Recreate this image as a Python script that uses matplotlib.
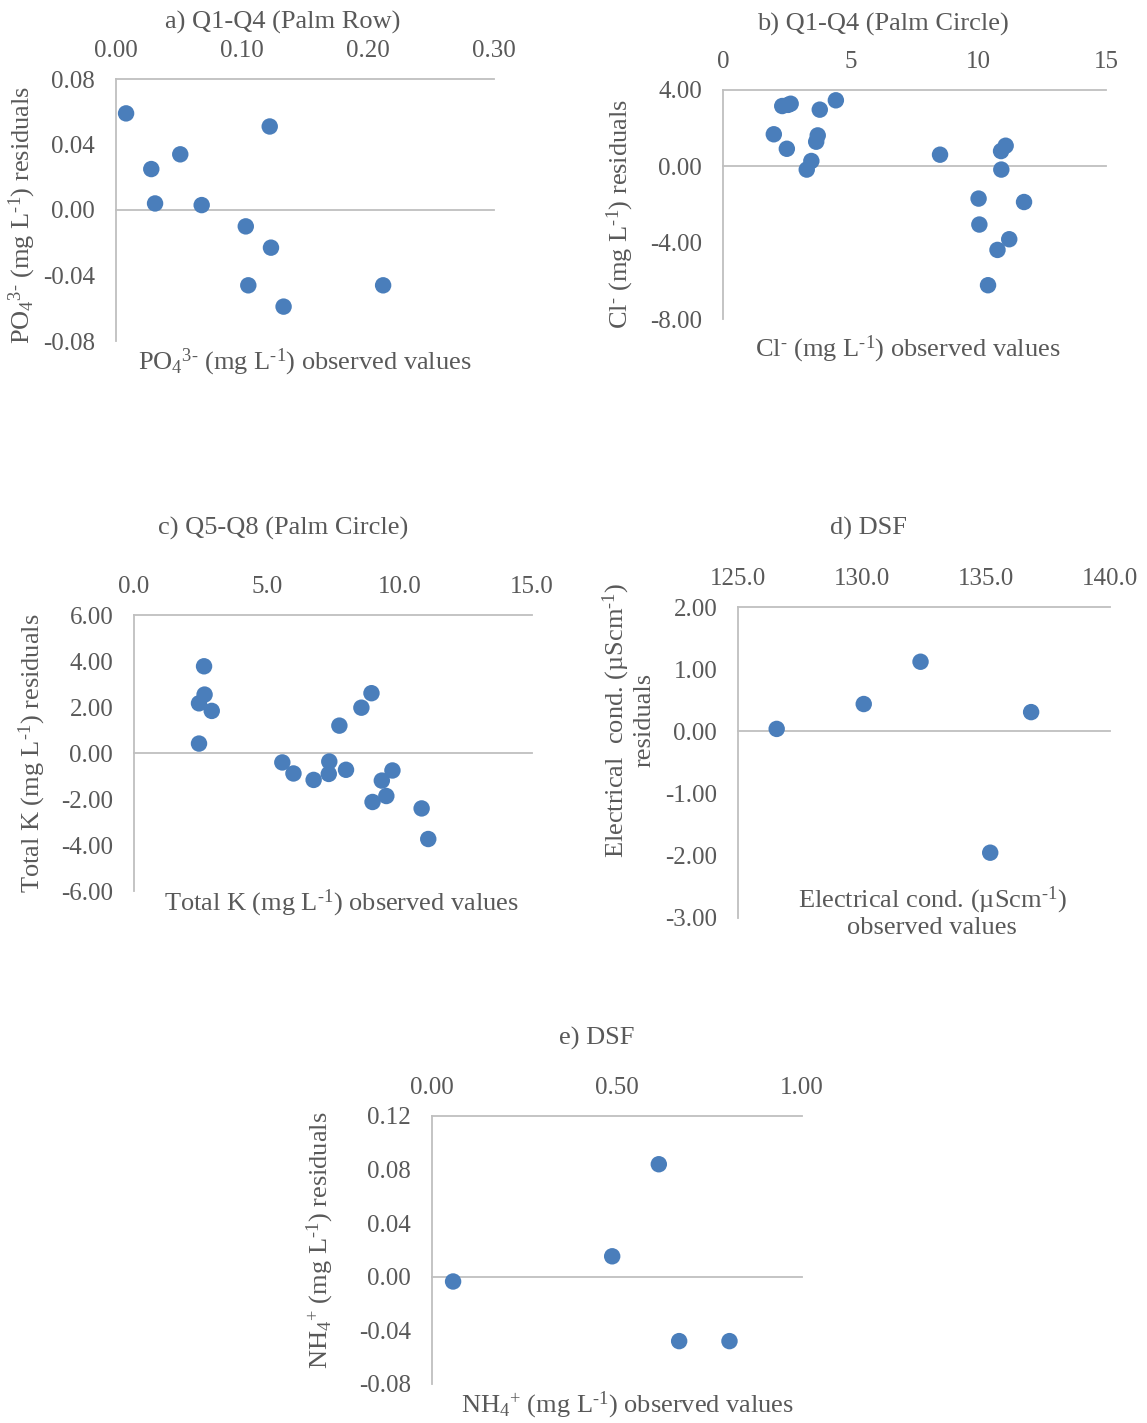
import matplotlib
matplotlib.use("Agg")
from matplotlib import pyplot as plt
from matplotlib.ticker import FixedLocator, FormatStrFormatter

plt.rcParams['font.family'] = ['Liberation Serif', 'DejaVu Serif']
plt.rcParams['mathtext.fontset'] = 'custom'
plt.rcParams['mathtext.rm'] = 'Liberation Serif'
plt.rcParams['mathtext.it'] = 'Liberation Serif:italic'
plt.rcParams['mathtext.bf'] = 'Liberation Serif:bold'

W, H = 1147, 1423
TEXT = '#595959'
LINE = '#BFBFBF'
DOT = '#4A7EBB'

# a) PO4 - Q1-Q4 palm row
po4_obs = [0.008, 0.122, 0.051, 0.028, 0.031, 0.068, 0.103, 0.123, 0.105, 0.212, 0.133]
po4_res = [0.059, 0.051, 0.034, 0.025, 0.004, 0.003, -0.010, -0.023, -0.046, -0.046, -0.059]

# b) Cl - Q1-Q4 palm circle
cl_obs = [2.32, 2.55, 2.65, 4.42, 3.79, 1.99, 3.71, 3.65, 2.50, 3.46, 3.28,
          8.50, 11.07, 10.89, 10.90, 10.01, 11.79, 10.04, 11.21, 10.75, 10.38]
cl_res = [3.16, 3.22, 3.28, 3.46, 2.97, 1.68, 1.62, 1.29, 0.92, 0.28, -0.17,
          0.61, 1.08, 0.80, -0.17, -1.69, -1.87, -3.05, -3.82, -4.38, -6.23]

# c) Total K - Q5-Q8 palm circle
k_obs = [2.64, 2.66, 2.45, 2.93, 2.45, 8.95, 8.57, 7.74, 5.59, 6.01,
         6.77, 7.36, 7.34, 7.99, 9.34, 9.74, 8.99, 9.51, 10.84, 11.09]
k_res = [3.77, 2.54, 2.16, 1.83, 0.41, 2.60, 1.97, 1.19, -0.41, -0.89,
         -1.17, -0.37, -0.91, -0.73, -1.20, -0.76, -2.13, -1.87, -2.41, -3.74]

# d) Electrical conductivity - DSF
ec_obs = [126.56, 130.07, 132.36, 136.82, 135.17]
ec_res = [0.04, 0.44, 1.12, 0.31, -1.95]

# e) NH4 - DSF
nh4_obs = [0.057, 0.487, 0.613, 0.668, 0.804]
nh4_res = [-0.0035, 0.0153, 0.084, -0.048, -0.048]


def px_axes(fig, x0, x1, y0, y1):
    """axes from pixel box: x0/x1 left/right, y0 top, y1 bottom"""
    return fig.add_axes([x0 / W, 1 - y1 / H, (x1 - x0) / W, (y1 - y0) / H])


def residual_panel(ax, x, y, xlim, xticks, xfmt, ylim, yticks, yfmt):
    ax.set_xlim(*xlim)
    ax.set_ylim(*ylim)
    for side in ['top', 'right', 'bottom']:
        ax.spines[side].set_visible(False)
    ax.spines['left'].set_color(LINE)
    ax.spines['left'].set_linewidth(1.3)
    ax.axhline(ylim[1], color=LINE, lw=1.3, clip_on=False)
    ax.axhline(0, color=LINE, lw=1.3, clip_on=False)
    ax.xaxis.tick_top()
    ax.xaxis.set_major_locator(FixedLocator(xticks))
    ax.xaxis.set_major_formatter(FormatStrFormatter(xfmt))
    ax.yaxis.set_major_locator(FixedLocator(yticks))
    ax.yaxis.set_major_formatter(FormatStrFormatter(yfmt))
    ax.tick_params(axis='x', length=0, pad=12, labelsize=18, labelcolor=TEXT)
    ax.tick_params(axis='y', length=0, pad=15, labelsize=18, labelcolor=TEXT)
    ax.scatter(x, y, s=140, color=DOT, edgecolors='none', zorder=3, clip_on=False)


def label(fig, x, y, s, **kw):
    kw.setdefault('fontsize', 19)
    fig.text(x / W, 1 - y / H, s, color=TEXT, ha='center', va='center', **kw)


fig = plt.figure(figsize=(W / 100, H / 100), dpi=100)

# a)
ax = px_axes(fig, 116, 494, 79, 341)
residual_panel(ax, po4_obs, po4_res, (0, 0.30), [0, 0.1, 0.2, 0.3], '%.2f',
               (-0.08, 0.08), [-0.08, -0.04, 0.0, 0.04, 0.08], '%.2f')
label(fig, 283, 22, 'a) Q1-Q4 (Palm Row)')
label(fig, 22, 215, r'PO$_4{}^{3\text{-}}$ (mg L$^{\text{-}1}$) residuals', rotation=90)
label(fig, 305, 362, r'PO$_4{}^{3\text{-}}$ (mg L$^{\text{-}1}$) observed values')

# b)
ax = px_axes(fig, 723, 1106, 90, 319)
residual_panel(ax, cl_obs, cl_res, (0, 15), [0, 5, 10, 15], '%.0f',
               (-8, 4), [-8, -4, 0, 4], '%.2f')
label(fig, 883, 24, 'b) Q1-Q4 (Palm Circle)')
label(fig, 620, 214, r'Cl$^{\text{-}}$ (mg L$^{\text{-}1}$) residuals', rotation=90)
label(fig, 908, 349, r'Cl$^{\text{-}}$ (mg L$^{\text{-}1}$) observed values')

# c)
ax = px_axes(fig, 134, 532, 615, 891)
residual_panel(ax, k_obs, k_res, (0, 15), [0, 5, 10, 15], '%.1f',
               (-6, 6), [-6, -4, -2, 0, 2, 4, 6], '%.2f')
label(fig, 283, 528, 'c) Q5-Q8 (Palm Circle)')
label(fig, 32, 753, r'Total K (mg L$^{\text{-}1}$) residuals', rotation=90)
label(fig, 341, 903, r'Total K (mg L$^{\text{-}1}$) observed values')

# d)
ax = px_axes(fig, 738, 1110, 607, 918)
residual_panel(ax, ec_obs, ec_res, (125, 140), [125, 130, 135, 140], '%.1f',
               (-3, 2), [-3, -2, -1, 0, 1, 2], '%.2f')
label(fig, 869, 528, 'd) DSF')
label(fig, 628, 720, 'Electrical  cond. (µScm$^{\\text{-}1}$)\nresiduals',
      rotation=90, linespacing=1.05)
label(fig, 932, 912, 'Electrical cond. (µScm$^{\\text{-}1}$)\nobserved values',
      linespacing=1.05)

# e)
ax = px_axes(fig, 432, 802, 1116, 1384)
residual_panel(ax, nh4_obs, nh4_res, (0, 1), [0, 0.5, 1.0], '%.2f',
               (-0.08, 0.12), [-0.08, -0.04, 0.0, 0.04, 0.08, 0.12], '%.2f')
label(fig, 597, 1038, 'e) DSF')
label(fig, 320, 1240, r'NH$_4{}^{+}$ (mg L$^{\text{-}1}$) residuals', rotation=90)
label(fig, 628, 1405, r'NH$_4{}^{+}$ (mg L$^{\text{-}1}$) observed values')

fig.savefig('out.png', dpi=100)
